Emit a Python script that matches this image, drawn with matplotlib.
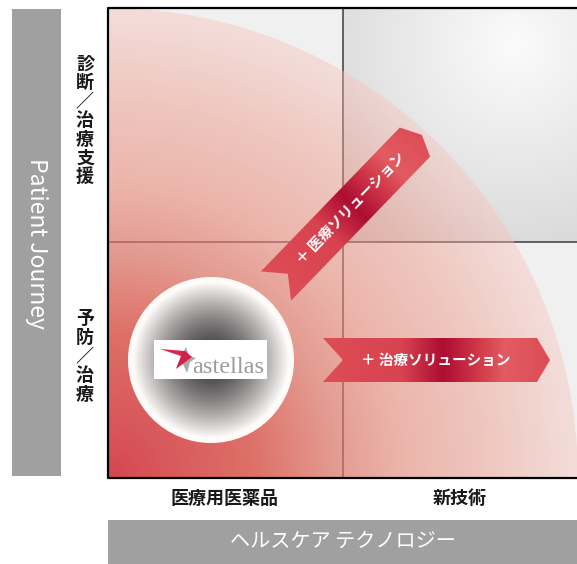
import numpy as np
import matplotlib.pyplot as plt
from matplotlib.patches import Polygon, Circle, Rectangle
from matplotlib.colors import LinearSegmentedColormap

plt.rcParams['font.family'] = ['Noto Sans CJK JP', 'DejaVu Sans']

# texts of the diagram
row_labels = ["診断／治療支援", "予防／治療"]
col_labels = ["医療用医薬品", "新技術"]
y_title = "Patient Journey"
x_title = "ヘルスケア テクノロジー"
arrow_labels = ["＋ 医療ソリューション", "＋ 治療ソリューション"]
brand = "astellas"

W, H = 577, 564
fig = plt.figure(figsize=(W / 100, H / 100), dpi=100)
ax = fig.add_axes([0, 0, 1, 1])
ax.axis('off')

# main box and quadrant split
bx0, bx1, by0, by1 = 108, 577, 8, 478
qx, qy = 343, 242
R = 470
bg = np.array([239, 240, 239]) / 255

ax.add_patch(Rectangle((bx0, by0), bx1 - bx0, by1 - by0, fc=bg, ec='none', zorder=0))

# grey box top right
xs = np.arange(qx, bx1) + 0.5
ys = np.arange(by0, qy) + 0.5
X, Y = np.meshgrid(xs, ys)
v = np.clip(0.985 - 0.16 * np.hypot(X - 515, Y - 45) / 250, 0, 1)
ax.imshow(np.dstack([v, v, v]), extent=[qx, bx1, qy, by0], origin='upper',
          aspect='auto', interpolation='bilinear', zorder=1)

# quadrant lines (under the red overlay)
ax.plot([qx, qx], [by0, by1], color='#4a4a4a', lw=1.2, zorder=2)
ax.plot([bx0, bx1], [qy, qy], color='#4a4a4a', lw=1.2, zorder=2)

# red quarter circle, fading out towards the arc
xs = np.arange(bx0, bx1) + 0.5
ys = np.arange(by0, by1) + 0.5
X, Y = np.meshgrid(xs, ys)
r = np.hypot(X - bx0, Y - by1) / R
r_stops = [0, 0.053, 0.31, 0.48, 0.63, 0.80, 0.97, 1.0]
target = np.array([(212, 68, 78), (215, 78, 85), (222, 112, 104), (228, 154, 144),
                   (236, 181, 172), (239, 198, 190), (243, 218, 214), (244, 221, 217)]) / 255
a_stops = [0.97, 0.96, 0.85, 0.7, 0.6, 0.5, 0.4, 0.4]
alpha = np.interp(r, r_stops, a_stops)
rgba = np.zeros(X.shape + (4,))
for k in range(3):
    tk = np.interp(r, r_stops, target[:, k])
    rgba[..., k] = np.clip((tk - (1 - alpha) * bg[k]) / alpha, 0, 1)
rgba[..., 3] = np.where(r <= 1.01, alpha, 0)
im = ax.imshow(rgba, extent=[bx0, bx1, by1, by0], origin='upper',
               aspect='auto', interpolation='bilinear', zorder=3)
im.set_clip_path(Circle((bx0, by1), R, transform=ax.transData))

# box border
ax.plot([bx1, bx0, bx0, bx1], [by0, by0, by1, by1], color='black', lw=1.6, zorder=4)

# grey sphere
cx, cy, cr = 211, 360, 83
xs = np.arange(cx - cr, cx + cr) + 0.5
ys = np.arange(cy - cr, cy + cr) + 0.5
X, Y = np.meshgrid(xs, ys)
rr = np.clip(np.hypot(X - cx, Y - cy) / cr, 0, 1)
v = np.clip(0.23 + 0.85 * rr ** 1.5, 0, 1)
im = ax.imshow(np.dstack([v, v * 0.985, v * 0.98]), extent=[cx - cr, cx + cr, cy + cr, cy - cr],
               origin='upper', aspect='auto', interpolation='bilinear', zorder=5)
im.set_clip_path(Circle((cx, cy), cr, transform=ax.transData))

# logo
ax.add_patch(Rectangle((154, 340), 113, 39, fc='white', ec='none', zorder=6))
ax.add_patch(Polygon([(186, 347), (189, 356), (196, 358), (190, 362), (187, 373),
                      (183, 364), (176, 368), (181, 357)], closed=True,
                     fc='#a8a8a8', ec='none', zorder=7))
ax.add_patch(Polygon([(160, 349), (185, 351), (192, 357), (176, 369), (181, 356)],
                     closed=True, fc='#d6133f', ec='none', alpha=0.92, zorder=8))
ax.text(192, 373, brand, family='Liberation Serif', fontsize=17.5, color='#9c9c9c',
        ha='left', va='baseline', zorder=9)

# ribbons
rib = LinearSegmentedColormap.from_list('rib', [
    (0, '#de4d56'), (0.35, '#d7424f'), (0.53, '#ad0d33'), (0.68, '#cf3748'),
    (0.8, '#e35b61'), (1, '#dd4c56')])


def ribbon(c0, ang, length, half_w, notch, tip, label, t_text):
    a = np.deg2rad(ang)
    u = np.array([np.cos(a), -np.sin(a)])
    n = np.array([np.sin(a), np.cos(a)])
    c0 = np.array(c0, float)
    pts = [c0 - n * half_w, c0 - n * half_w + u * length, c0 + u * (length + tip),
           c0 + n * half_w + u * length, c0 + n * half_w, c0 + u * notch]
    pts = np.array(pts)
    x0, y0 = np.floor(pts.min(axis=0))
    x1, y1 = np.ceil(pts.max(axis=0))
    X, Y = np.meshgrid(np.arange(x0, x1) + 0.5, np.arange(y0, y1) + 0.5)
    t = np.clip(((X - c0[0]) * u[0] + (Y - c0[1]) * u[1]) / (length + tip), 0, 1)
    poly = Polygon(pts, closed=True, fc='none', ec='none', transform=ax.transData)
    im = ax.imshow(rib(t), extent=[x0, x1, y1, y0], origin='upper', aspect='auto',
                   interpolation='bilinear', zorder=10)
    im.set_clip_path(poly)
    p = c0 + u * t_text
    ax.text(p[0], p[1], label, rotation=ang, rotation_mode='anchor', ha='center',
            va='center', color='white', fontsize=10.5, fontweight='bold', zorder=11)


ribbon((276, 286), 46, 200, 21, 17, 10, arrow_labels[0], 108)
ribbon((323, 360), 0, 214, 22, 20, 13, arrow_labels[1], 113)

# row labels (vertical)
for lab, ystart in zip(row_labels, [64, 319]):
    for i, ch in enumerate(lab):
        ax.text(85, ystart + i * 18.8, ch, ha='center', va='center', fontsize=13,
                fontweight='bold', color='#1a1a1a')

# column labels
for lab, xc in zip(col_labels, [225, 460]):
    ax.text(xc, 499, lab, ha='center', va='center', fontsize=13, fontweight='bold',
            color='#1a1a1a')

# side bars
ax.add_patch(Rectangle((12, 9), 49, 467, fc='#a0a0a0', ec='none'))
ax.text(36, 243, y_title, rotation=-90, ha='center', va='center', fontsize=16.5,
        color='white')
ax.add_patch(Rectangle((108, 520), 469, 44, fc='#a0a0a0', ec='none'))
ax.text(343, 541, x_title, ha='center', va='center', fontsize=14.5, color='white')

ax.set_xlim(0, W)
ax.set_ylim(H, 0)
fig.savefig('out.png', dpi=100)
